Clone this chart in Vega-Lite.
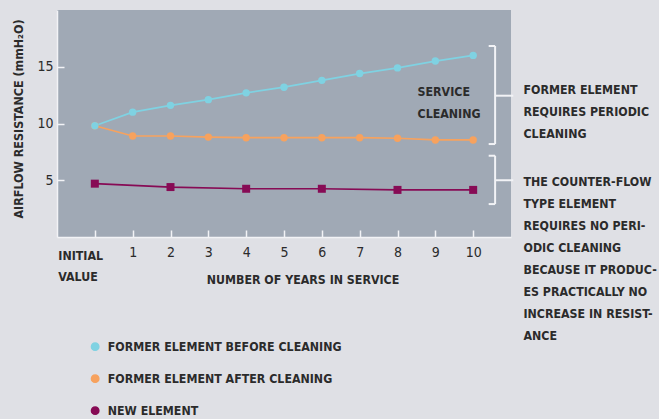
{
  "$schema": "https://vega.github.io/schema/vega-lite/v6.json",
  "width": 454,
  "height": 227,
  "autosize": {"type": "none"},
  "padding": {"left": 57, "top": 10, "right": 148, "bottom": 182},
  "background": "#dfe0e5",
  "view": {"fill": "#a0a9b5", "stroke": null},
  "config": {
    "font": "Liberation Sans Narrow, DejaVu Sans Condensed, sans-serif"
  },
  "datasets": {
    "series": [
      {"series": "FORMER ELEMENT AFTER CLEANING", "year": 0, "value": 9.8},
      {"series": "FORMER ELEMENT AFTER CLEANING", "year": 1, "value": 8.9},
      {"series": "FORMER ELEMENT AFTER CLEANING", "year": 2, "value": 8.9},
      {"series": "FORMER ELEMENT AFTER CLEANING", "year": 3, "value": 8.8},
      {"series": "FORMER ELEMENT AFTER CLEANING", "year": 4, "value": 8.75},
      {"series": "FORMER ELEMENT AFTER CLEANING", "year": 5, "value": 8.75},
      {"series": "FORMER ELEMENT AFTER CLEANING", "year": 6, "value": 8.75},
      {"series": "FORMER ELEMENT AFTER CLEANING", "year": 7, "value": 8.75},
      {"series": "FORMER ELEMENT AFTER CLEANING", "year": 8, "value": 8.7},
      {"series": "FORMER ELEMENT AFTER CLEANING", "year": 9, "value": 8.55},
      {"series": "FORMER ELEMENT AFTER CLEANING", "year": 10, "value": 8.55},
      {"series": "FORMER ELEMENT BEFORE CLEANING", "year": 0, "value": 9.8},
      {"series": "FORMER ELEMENT BEFORE CLEANING", "year": 1, "value": 11.0},
      {"series": "FORMER ELEMENT BEFORE CLEANING", "year": 2, "value": 11.6},
      {"series": "FORMER ELEMENT BEFORE CLEANING", "year": 3, "value": 12.1},
      {"series": "FORMER ELEMENT BEFORE CLEANING", "year": 4, "value": 12.7},
      {"series": "FORMER ELEMENT BEFORE CLEANING", "year": 5, "value": 13.2},
      {"series": "FORMER ELEMENT BEFORE CLEANING", "year": 6, "value": 13.8},
      {"series": "FORMER ELEMENT BEFORE CLEANING", "year": 7, "value": 14.4},
      {"series": "FORMER ELEMENT BEFORE CLEANING", "year": 8, "value": 14.9},
      {"series": "FORMER ELEMENT BEFORE CLEANING", "year": 9, "value": 15.5},
      {"series": "FORMER ELEMENT BEFORE CLEANING", "year": 10, "value": 16.0},
      {"series": "NEW ELEMENT", "year": 0, "value": 4.7},
      {"series": "NEW ELEMENT", "year": 2, "value": 4.4},
      {"series": "NEW ELEMENT", "year": 4, "value": 4.25},
      {"series": "NEW ELEMENT", "year": 6, "value": 4.25},
      {"series": "NEW ELEMENT", "year": 8, "value": 4.15},
      {"series": "NEW ELEMENT", "year": 10, "value": 4.15}
    ],
    "brackets": [
      {"x": 10.58, "x2": 10.58, "y": 8.19, "y2": 16.83},
      {"x": 10.41, "x2": 10.58, "y": 16.83, "y2": 16.83},
      {"x": 10.41, "x2": 10.58, "y": 8.19, "y2": 8.19},
      {"x": 10.58, "x2": 11.06, "y": 12.45, "y2": 12.45},
      {"x": 10.58, "x2": 10.58, "y": 2.9, "y2": 7.16},
      {"x": 10.41, "x2": 10.58, "y": 7.16, "y2": 7.16},
      {"x": 10.41, "x2": 10.58, "y": 2.9, "y2": 2.9},
      {"x": 10.58, "x2": 11.06, "y": 5.0, "y2": 5.0}
    ],
    "notes": [
      {"x": 8.53, "y": 12.42, "text": "SERVICE\nCLEANING"},
      {"x": 11.33, "y": 12.56, "text": "FORMER ELEMENT\nREQUIRES PERIODIC\nCLEANING"},
      {"x": 11.33, "y": 4.48, "text": "THE COUNTER-FLOW\nTYPE ELEMENT\nREQUIRES NO PERI-\nODIC CLEANING\nBECAUSE IT PRODUC-\nES PRACTICALLY NO\nINCREASE IN RESIST-\nANCE"}
    ]
  },
  "layer": [
    {
      "data": {"name": "brackets"},
      "mark": {"type": "rule", "color": "#f2f3f6", "strokeWidth": 2},
      "encoding": {
        "x": {"field": "x", "type": "quantitative"},
        "x2": {"field": "x2"},
        "y": {"field": "y", "type": "quantitative"},
        "y2": {"field": "y2"}
      }
    },
    {
      "data": {"name": "notes"},
      "mark": {"type": "text", "align": "left", "baseline": "alphabetic", "lineBreak": "\n", "lineHeight": 22, "fontSize": 12.3, "fontWeight": "bold", "color": "#2b2b2b"},
      "encoding": {
        "x": {"field": "x", "type": "quantitative"},
        "y": {"field": "y", "type": "quantitative"},
        "text": {"field": "text", "type": "nominal"}
      }
    },
    {
      "data": {"name": "series"},
      "mark": {"type": "line", "strokeWidth": 1.7},
      "encoding": {
        "x": {"field": "year", "type": "quantitative"},
        "y": {"field": "value", "type": "quantitative"},
        "color": {"field": "series", "type": "nominal"}
      }
    },
    {
      "data": {"name": "series"},
      "transform": [{"filter": "datum.series != 'NEW ELEMENT'"}],
      "mark": {"type": "point", "filled": true, "size": 55, "opacity": 1},
      "encoding": {
        "x": {
          "field": "year", "type": "quantitative",
          "scale": {"domain": [-1, 11], "nice": false, "zero": false},
          "axis": {
            "values": [0, 1, 2, 3, 4, 5, 6, 7, 8, 9, 10],
            "title": "NUMBER OF YEARS IN SERVICE",
            "titleX": 245.5, "titleY": 46, "titleAlign": "center", "titleBaseline": "alphabetic",
            "titleFontSize": 12.3, "titleFontWeight": "bold", "titleColor": "#2b2b2b",
            "labelExpr": "datum.value == 0 ? ['INITIAL', 'VALUE'] : datum.label",
            "labelFontSize": {"condition": {"test": "datum.value == 0", "value": 12.3}, "value": 14},
            "labelFontWeight": {"condition": {"test": "datum.value == 0", "value": "bold"}, "value": "normal"},
            "labelAlign": {"condition": {"test": "datum.value == 0", "value": "left"}, "value": "center"},
            "labelOffset": {"condition": {"test": "datum.value == 0", "value": -37}, "value": 0},
            "labelPadding": {"condition": {"test": "datum.value == 0", "value": 19}, "value": 15},
            "labelLineHeight": 21.5, "labelColor": "#2b2b2b",
            "labelOverlap": false, "labelFlush": false,
            "tickSize": -7, "tickColor": "#f2f3f6", "tickWidth": 1.5,
            "domainColor": "#f2f3f6", "domainWidth": 1.5, "grid": false
          }
        },
        "y": {
          "field": "value", "type": "quantitative",
          "scale": {"domain": [0, 20], "nice": false, "zero": false},
          "axis": {
            "values": [5, 10, 15],
            "title": "AIRFLOW RESISTANCE (mmH₂O)",
            "titleX": -35, "titleY": 108.5, "titleAngle": -90, "titleAlign": "center", "titleBaseline": "alphabetic",
            "titleFontSize": 12.4, "titleFontWeight": "bold", "titleColor": "#2b2b2b",
            "labelFontSize": 14, "labelColor": "#2b2b2b", "labelPadding": 11,
            "tickSize": -7, "tickColor": "#f2f3f6", "tickWidth": 1.5,
            "domainColor": "#f2f3f6", "domainWidth": 1.5, "grid": false
          }
        },
        "color": {
          "field": "series", "type": "nominal",
          "scale": {
            "domain": ["FORMER ELEMENT BEFORE CLEANING", "FORMER ELEMENT AFTER CLEANING", "NEW ELEMENT"],
            "range": ["#7fd2e2", "#f7a25e", "#870b55"]
          },
          "legend": {
            "orient": "none", "legendX": 32, "legendY": 330.5, "direction": "vertical",
            "title": null, "padding": 0, "labelFontSize": 12.3, "labelFontWeight": "bold",
            "labelColor": "#2b2b2b", "symbolSize": 55, "rowPadding": 18, "labelOffset": 6.5,
            "labelLimit": 300
          }
        }
      }
    },
    {
      "data": {"name": "series"},
      "transform": [{"filter": "datum.series == 'NEW ELEMENT'"}],
      "mark": {"type": "square", "filled": true, "size": 64, "opacity": 1},
      "encoding": {
        "x": {"field": "year", "type": "quantitative"},
        "y": {"field": "value", "type": "quantitative"},
        "color": {"field": "series", "type": "nominal"}
      }
    }
  ]
}
